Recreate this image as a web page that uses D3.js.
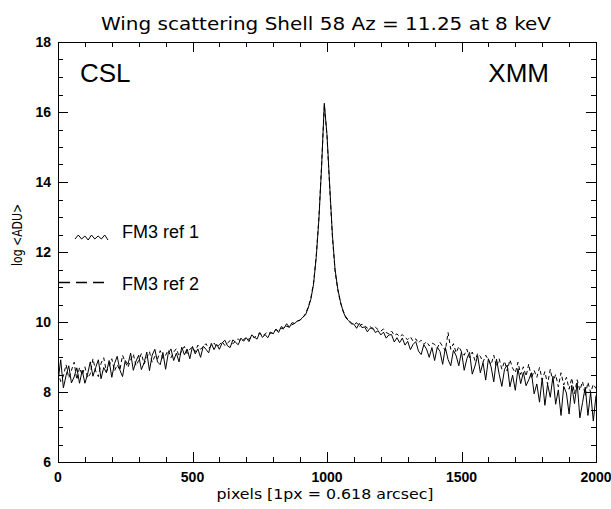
<!DOCTYPE html>
<html>
<head>
<meta charset="utf-8">
<script src="https://cdn.jsdelivr.net/npm/d3@7"></script>
<style>
  body { margin: 0; background: #fff; }
  svg { display: block; }
  .tick-label { font-family: "Liberation Sans", Arial, sans-serif; font-weight: bold; font-size: 14px; fill: #000; }
  .axis-title { font-family: "DejaVu Sans", sans-serif; font-size: 14px; fill: #000; }
</style>
</head>
<body>
<div id="chart"></div>
<script>
// pixel positions sampled every 10 px from 0 to 2000
var pixStep = 10;

// FM3 ref 1 (solid), log <ADU>
var ref1 = [
  8.30, 8.92, 8.12, 8.47, 8.75, 8.26, 8.43, 8.69, 8.25, 8.62,
  8.25, 8.51, 8.86, 8.45, 8.70, 8.92, 8.38, 8.70, 8.55, 8.90,
  8.42, 8.81, 9.02, 8.63, 8.44, 8.90, 8.79, 9.11, 8.62, 8.88,
  9.05, 8.64, 8.83, 9.14, 8.61, 9.05, 9.22, 8.86, 8.78, 9.13,
  8.65, 9.11, 9.23, 8.90, 9.11, 8.86, 9.28, 9.06, 9.23, 8.95,
  9.30, 9.09, 9.23, 8.99, 9.31, 9.22, 9.12, 9.39, 9.21, 9.36,
  9.22, 9.40, 9.48, 9.32, 9.27, 9.49, 9.42, 9.35, 9.54, 9.45,
  9.55, 9.44, 9.63, 9.57, 9.51, 9.70, 9.56, 9.64, 9.55, 9.71,
  9.66, 9.80, 9.70, 9.87, 9.82, 9.95, 9.85, 9.98, 9.96, 10.03,
  10.05, 10.14, 10.20, 10.40, 10.65, 11.08, 11.85, 12.95, 14.45, 16.25,
  15.35, 13.90, 12.50, 11.50, 10.95, 10.58, 10.30, 10.12, 10.04, 9.95,
  9.94, 9.82, 9.96, 9.84, 9.86, 9.72, 9.82, 9.83, 9.70, 9.75,
  9.63, 9.71, 9.54, 9.63, 9.64, 9.43, 9.55, 9.41, 9.54, 9.34,
  9.45, 9.21, 9.36, 9.44, 9.17, 9.07, 9.35, 9.23, 8.99, 9.27,
  8.90, 9.28, 9.16, 8.79, 9.27, 8.93, 8.75, 9.19, 9.04, 8.75,
  9.15, 8.62, 8.95, 9.13, 8.51, 8.74, 9.04, 8.55, 8.84, 8.34,
  8.95, 8.72, 8.29, 8.94, 8.51, 8.16, 8.65, 8.77, 8.15, 8.48,
  8.05, 8.67, 8.24, 8.56, 8.18, 8.35, 8.55, 7.95, 8.23, 7.71,
  8.40, 7.62, 8.22, 7.85, 8.45, 7.65, 8.06, 7.33, 8.16, 7.97,
  7.37, 8.19, 7.67, 8.26, 7.26, 7.70, 8.14, 7.33, 7.99, 7.17,
  7.90
];

// FM3 ref 2 (dashed)
var ref2 = [
  8.58, 8.30, 8.46, 8.78, 8.40, 8.62, 8.85, 8.35, 8.70, 8.48,
  8.72, 8.40, 8.52, 8.95, 8.60, 8.44, 8.82, 8.98, 8.58, 8.74,
  8.95, 8.60, 8.78, 8.62, 9.05, 8.85, 8.70, 8.92, 9.08, 8.75,
  8.90, 9.10, 8.80, 8.98, 9.15, 8.85, 9.02, 8.94, 9.18, 8.96,
  9.05, 9.20, 8.98, 9.14, 9.24, 9.02, 9.18, 9.30, 9.10, 9.22,
  9.28, 9.15, 9.34, 9.22, 9.30, 9.38, 9.25, 9.32, 9.40, 9.29,
  9.35, 9.44, 9.33, 9.40, 9.47, 9.38, 9.45, 9.52, 9.44, 9.50,
  9.56, 9.50, 9.60, 9.55, 9.63, 9.68, 9.60, 9.66, 9.72, 9.67,
  9.72, 9.78, 9.74, 9.82, 9.80, 9.88, 9.85, 9.92, 9.96, 10.02,
  10.06, 10.12, 10.24, 10.42, 10.68, 11.12, 11.90, 13.00, 14.50, 16.20,
  15.30, 13.85, 12.45, 11.45, 10.92, 10.55, 10.32, 10.15, 10.05, 9.98,
  9.92, 9.98, 9.87, 9.94, 9.90, 9.82, 9.88, 9.79, 9.85, 9.78,
  9.74, 9.80, 9.70, 9.66, 9.74, 9.62, 9.66, 9.58, 9.64, 9.55,
  9.50, 9.58, 9.45, 9.52, 9.40, 9.48, 9.36, 9.44, 9.32, 9.40,
  9.36, 9.25, 9.42, 9.30, 9.18, 9.70, 9.22, 9.38, 9.12, 9.30,
  9.15, 9.05, 9.22, 8.98, 9.14, 8.90, 9.10, 9.02, 8.85, 9.05,
  8.92, 8.78, 9.05, 8.72, 8.95, 8.65, 8.88, 8.60, 8.92, 8.68,
  8.55, 8.85, 8.50, 8.72, 8.45, 8.80, 8.38, 8.62, 8.42, 8.70,
  8.35, 8.58, 8.22, 8.65, 8.28, 8.50, 8.15, 8.55, 8.20, 8.42,
  8.08, 8.40, 7.95, 8.35, 8.05, 8.30, 7.90, 8.28, 7.98, 8.22,
  8.10
];

var xMajor = [0, 500, 1000, 1500, 2000];
var yMajor = [6, 8, 10, 12, 14, 16, 18];
var seriesNames = ["FM3 ref 1", "FM3 ref 2"];

var W = 611, H = 509;
var plot = { left: 58, right: 596, top: 42, bottom: 462 };

var svg = d3.select("#chart").append("svg")
    .attr("width", W)
    .attr("height", H);

var x = d3.scaleLinear().domain([0, 2000]).range([plot.left, plot.right]);
var y = d3.scaleLinear().domain([6, 18]).range([plot.bottom, plot.top]);

// title
svg.append("text")
    .attr("x", 326)
    .attr("y", 30)
    .attr("text-anchor", "middle")
    .attr("textLength", 450)
    .attr("lengthAdjust", "spacingAndGlyphs")
    .style("font-family", "DejaVu Sans, sans-serif")
    .style("font-size", "17px")
    .text("Wing scattering Shell 58 Az = 11.25 at 8 keV");

svg.append("defs").append("clipPath").attr("id", "plotClip")
    .append("rect")
    .attr("x", plot.left).attr("y", plot.top)
    .attr("width", plot.right - plot.left)
    .attr("height", plot.bottom - plot.top);

//ticks - all pointing into the frame
var xMinor = d3.range(0, 2001, 100);
var yMinor = d3.range(6, 18.01, 0.5);

var tickG = svg.append("g").attr("stroke", "#000").attr("stroke-width", 1);

function xTickLen(d) { return xMajor.indexOf(d) >= 0 ? 10 : 5; }
function yTickLen(d) { return yMajor.indexOf(d) >= 0 ? 10 : 5; }

tickG.selectAll(".xb").data(xMinor).enter().append("line")
    .attr("x1", function (d) { return Math.round(x(d)) + 0.5; })
    .attr("x2", function (d) { return Math.round(x(d)) + 0.5; })
    .attr("y1", plot.bottom)
    .attr("y2", function (d) { return plot.bottom - xTickLen(d); });

tickG.selectAll(".xt").data(xMinor).enter().append("line")
    .attr("x1", function (d) { return Math.round(x(d)) + 0.5; })
    .attr("x2", function (d) { return Math.round(x(d)) + 0.5; })
    .attr("y1", plot.top)
    .attr("y2", function (d) { return plot.top + xTickLen(d); });

tickG.selectAll(".yl").data(yMinor).enter().append("line")
    .attr("y1", function (d) { return Math.round(y(d)) + 0.5; })
    .attr("y2", function (d) { return Math.round(y(d)) + 0.5; })
    .attr("x1", plot.left)
    .attr("x2", function (d) { return plot.left + yTickLen(d); });

tickG.selectAll(".yr").data(yMinor).enter().append("line")
    .attr("y1", function (d) { return Math.round(y(d)) + 0.5; })
    .attr("y2", function (d) { return Math.round(y(d)) + 0.5; })
    .attr("x1", plot.right)
    .attr("x2", function (d) { return plot.right - yTickLen(d); });

// frame
svg.append("rect")
    .attr("x", plot.left + 0.5).attr("y", plot.top + 0.5)
    .attr("width", plot.right - plot.left)
    .attr("height", plot.bottom - plot.top)
    .attr("fill", "none")
    .attr("stroke", "#000")
    .attr("stroke-width", 1);

// tick labels
svg.selectAll(".xlab").data(xMajor).enter().append("text")
    .attr("class", "tick-label")
    .attr("x", function (d) { return x(d); })
    .attr("y", 482)
    .attr("text-anchor", "middle")
    .text(function (d) { return d; });

svg.selectAll(".ylab").data(yMajor).enter().append("text")
    .attr("class", "tick-label")
    .attr("x", 51)
    .attr("y", function (d) { return y(d) + 5; })
    .attr("text-anchor", "end")
    .text(function (d) { return d; });

// axis titles
svg.append("text")
    .attr("class", "axis-title")
    .attr("x", 325)
    .attr("y", 499)
    .attr("text-anchor", "middle")
    .attr("textLength", 217)
    .attr("lengthAdjust", "spacingAndGlyphs")
    .text("pixels [1px = 0.618 arcsec]");

svg.append("text")
    .attr("class", "axis-title")
    .attr("transform", "translate(22,235) rotate(-90)")
    .attr("text-anchor", "middle")
    .attr("textLength", 62)
    .attr("lengthAdjust", "spacingAndGlyphs")
    .text("log <ADU>");

// the two curves
var line = d3.line()
    .x(function (d, i) { return x(i * pixStep); })
    .y(function (d) { return y(d); });

var curves = svg.append("g").attr("clip-path", "url(#plotClip)");

curves.append("path")
    .datum(ref2)
    .attr("fill", "none")
    .attr("stroke", "#000")
    .attr("stroke-width", 1)
    .attr("stroke-dasharray", "4,3")
    .attr("d", line);

curves.append("path")
    .datum(ref1)
    .attr("fill", "none")
    .attr("stroke", "#000")
    .attr("stroke-width", 1)
    .attr("d", line);

// legend
var legendWiggle = [0, -4, 0, -3, 1, -4, 0, -3, 0, -4, 1];
var legend = svg.append("g").style("font-family", "Liberation Sans, Arial, sans-serif").style("font-size", "18px");

legend.append("path")
    .attr("fill", "none")
    .attr("stroke", "#000")
    .attr("d", d3.line()
        .x(function (d, i) { return 75 + i * 3.3; })
        .y(function (d) { return 239 + d; })(legendWiggle));

legend.append("text").attr("x", 122).attr("y", 238).text(seriesNames[0]);

legend.append("line")
    .attr("x1", 59).attr("x2", 108)
    .attr("y1", 282.5).attr("y2", 282.5)
    .attr("stroke", "#000")
    .attr("stroke-width", 1.3)
    .attr("stroke-dasharray", "11,6");

legend.append("text").attr("x", 122).attr("y", 290).text(seriesNames[1]);

// corner labels
svg.append("text")
    .attr("x", 80).attr("y", 82)
    .style("font-family", "Liberation Sans, Arial, sans-serif")
    .style("font-size", "26px")
    .text("CSL");

svg.append("text")
    .attr("x", 549).attr("y", 82)
    .attr("text-anchor", "end")
    .style("font-family", "Liberation Sans, Arial, sans-serif")
    .style("font-size", "26px")
    .text("XMM");
</script>
</body>
</html>
